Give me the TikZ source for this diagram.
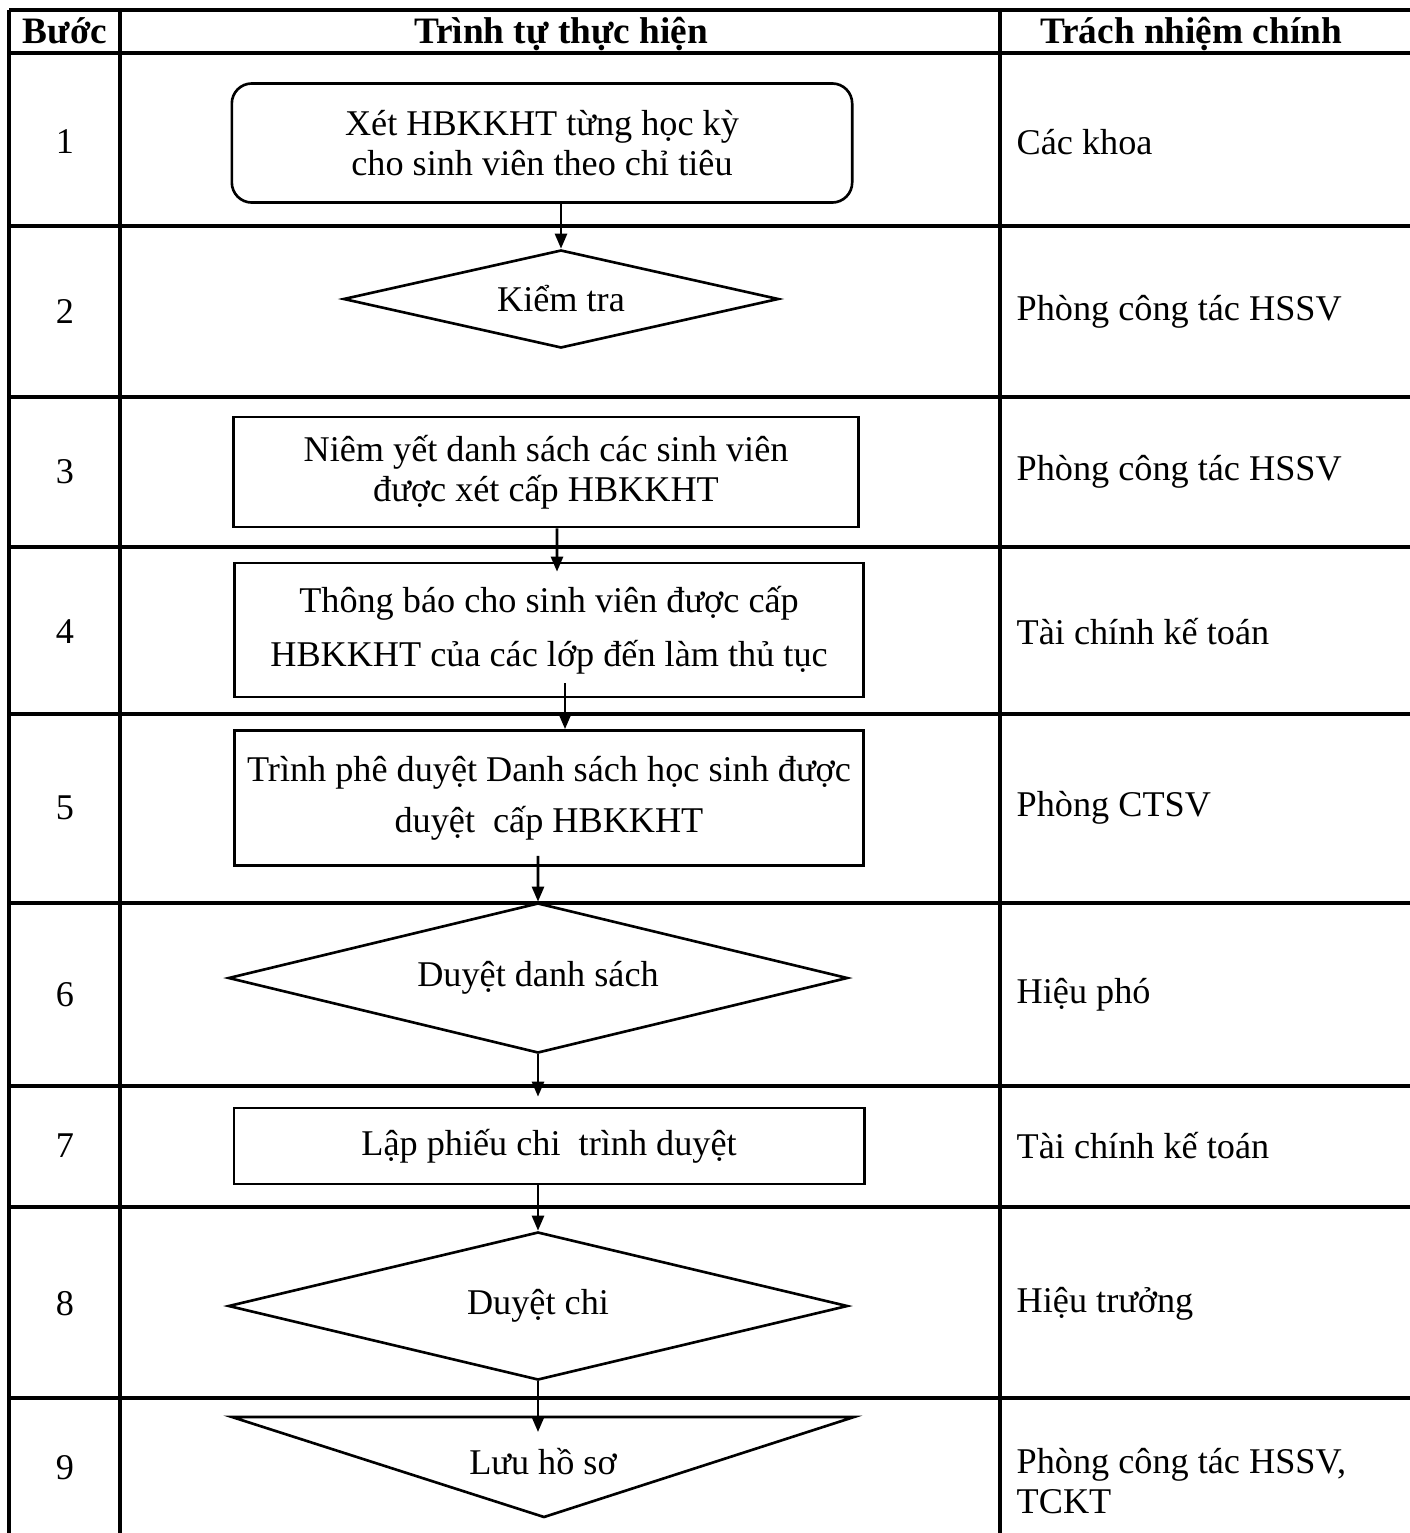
\documentclass[tikz,border=0pt]{standalone}
\usepackage{fontspec}
\setmainfont{Liberation Serif}
\usetikzlibrary{arrows.meta,shapes.geometric,positioning}

\begin{document}
\begin{tikzpicture}[x=0.01cm,y=-0.01cm]
                \tikzstyle{every node}+=[inner sep=0pt, font=\fontsize{10.3}{11.5}\selectfont]
                \tikzstyle{grid}=[black, line width=1pt]
                \tikzstyle{box}=[draw=black, line width=0.75pt, rectangle, align=center]
                \tikzstyle{startbox}=[box, rounded corners=0.2cm]
                \tikzstyle{check}=[draw=black, line width=0.75pt, diamond, aspect=4, align=center]
                \tikzstyle{arr}=[black, line width=0.75pt, -{Triangle[length=0.15cm,width=0.12cm]}]
                \tikzstyle{head}=[anchor=base, font=\fontsize{10.6}{12}\selectfont\bfseries]
                \clip (0,0) rectangle (1410,1533);
                % table
                \draw [grid] (9,10) -- (1420,10);
                \draw [grid] (9,53) -- (1420,53);
                \draw [grid] (9,226) -- (1420,226);
                \draw [grid] (9,397) -- (1420,397);
                \draw [grid] (9,547) -- (1420,547);
                \draw [grid] (9,714) -- (1420,714);
                \draw [grid] (9,903) -- (1420,903);
                \draw [grid] (9,1086) -- (1420,1086);
                \draw [grid] (9,1207) -- (1420,1207);
                \draw [grid] (9,1398) -- (1420,1398);
                \draw [grid] (9,10) -- (9,1540);
                \draw [grid] (120,10) -- (120,1540);
                \draw [grid] (1000,10) -- (1000,1540);
                \node [head] (h1) at (65,44) {Bước};
                \node [head] (h2) at (561,44) {Trình tự thực hiện};
                \node [head] (h3) at (1191,44) {Trách nhiệm chính};
                % steps
                \node (n1) at (65,142) {1};
                \node (n2) at (65,312) {2};
                \node (n3) at (65,472) {3};
                \node (n4) at (65,632) {4};
                \node (n5) at (65,808) {5};
                \node (n6) at (65,995) {6};
                \node (n7) at (65,1146) {7};
                \node (n8) at (65,1304) {8};
                \node (n9) at (65,1468) {9};
                % responsibility
                \node [anchor=west] (r1) at (1016,142) {Các khoa};
                \node [anchor=west] (r2) at (1016,312) {Phòng công tác HSSV};
                \node [anchor=west] (r3) at (1016,472) {Phòng công tác HSSV};
                \node [anchor=west] (r4) at (1016,632) {Tài chính kế toán};
                \node [anchor=west] (r5) at (1016,808) {Phòng CTSV};
                \node [anchor=west] (r6) at (1016,995) {Hiệu phó};
                \node [anchor=west] (r7) at (1016,1146) {Tài chính kế toán};
                \node [anchor=west] (r8) at (1016,1304) {Hiệu trưởng};
                \node [anchor=west, align=left] (r9) at (1016,1481) {Phòng công tác HSSV,\\TCKT};
                % flow
                \node [startbox, minimum width=6.2cm, minimum height=1.19cm] (s1) at (542,143) {Xét HBKKHT từng học kỳ\\cho sinh viên theo chỉ tiêu};
                \node [check, minimum width=4.35cm, minimum height=0.98cm] (s2) at (561,299) {Kiểm tra};
                \node [box, minimum width=6.25cm, minimum height=1.1cm] (s3) at (546,472) {Niêm yết danh sách các sinh viên\\được xét cấp HBKKHT};
                \node [box, minimum width=6.29cm, minimum height=1.34cm] (s4) at (549,630) {Thông báo cho sinh viên được cấp\\[4pt]HBKKHT của các lớp đến làm thủ tục};
                \node [box, minimum width=6.29cm, minimum height=1.35cm] (s5) at (549,798) {Trình phê duyệt Danh sách học sinh được\\[3pt]duyệt\ \ cấp HBKKHT};
                \node [check, minimum width=6.19cm, minimum height=1.5cm] (s6) at (538,978) {Duyệt danh sách};
                \node [box, minimum width=6.3cm, minimum height=0.76cm] (s7) at (549,1146) {Lập phiếu chi\ \ trình duyệt};
                \node [check, minimum width=6.19cm, minimum height=1.48cm] (s8) at (538,1306) {Duyệt chi};
                \node (s9) at (543,1462) {Lưu hồ sơ};
                \coordinate (s9l) at (232,1417);
                \coordinate (s9r) at (854,1417);
                \coordinate (s9b) at (544,1517);
                \draw [black, line width=0.75pt] (s9l) -- (s9r) -- (s9b) -- cycle;
                % arrows
                \draw [arr] (s2.north |- s1.south) -- (s2.north);
                \draw [arr] ([xshift=0.11cm]s3.south) -- ([xshift=0.08cm,yshift=-0.1cm]s4.north);
                \draw [arr] ([xshift=0.16cm,yshift=0.15cm]s4.south) -- ([xshift=0.16cm]s5.north);
                \draw [arr] ([xshift=-0.11cm,yshift=0.11cm]s5.south) -- (s6.north);
                \draw [arr, shorten >=0.1cm] (s6.south) -- (s6.south |- s7.north);
                \draw [arr] (s8.north |- s7.south) -- (s8.north);
                \draw [arr, shorten >=-0.15cm] (s8.south) -- (s8.south |- s9l);
            \end{tikzpicture}
\end{document}
